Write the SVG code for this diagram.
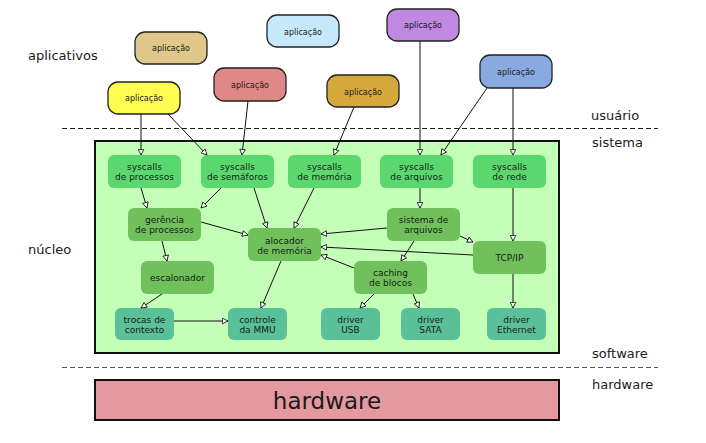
<svg xmlns="http://www.w3.org/2000/svg" width="706" height="443" viewBox="0 0 706 443">
<style>
text{font-family:"DejaVu Sans","Liberation Sans",sans-serif;fill:#1a1a1a;text-anchor:middle}
.app rect{stroke:#222;stroke-width:1.3}
.app text{font-size:8px}
.n text{font-size:9px}
.sc rect{fill:#5ad86e}
.l2 rect{fill:#70c05c}
.l3 rect{fill:#5ac09a}
.lbl{font-size:13px;text-anchor:start}
.conn line{stroke:#111;stroke-width:1;marker-end:url(#ah)}
</style>
<defs>
<marker id="ah" viewBox="0 0 10 10" refX="9" refY="5" markerWidth="7" markerHeight="7" orient="auto" markerUnits="userSpaceOnUse">
<path d="M1,1 L9,5 L1,9 Z" fill="#fff" stroke="#111" stroke-width="1.2"/>
</marker>
</defs>
<rect width="706" height="443" fill="#fff"/>
<text class="lbl" x="28" y="60">aplicativos</text>
<text class="lbl" x="28" y="254">núcleo</text>
<text class="lbl" x="591" y="120">usuário</text>
<text class="lbl" x="592" y="147">sistema</text>
<text class="lbl" x="592" y="358">software</text>
<text class="lbl" x="592" y="389">hardware</text>
<line x1="62" y1="128.5" x2="658" y2="128.5" stroke="#222" stroke-width="1" stroke-dasharray="5,3"/>
<line x1="62" y1="367.5" x2="658" y2="367.5" stroke="#555" stroke-width="1" stroke-dasharray="5,3"/>
<rect id="nucleo" x="95" y="141" width="464" height="212" fill="#c4ffb8" stroke="#111" stroke-width="2"/>
<g id="hardware"><rect x="95" y="380" width="464" height="40" fill="#e4989f" stroke="#111" stroke-width="2"/><text x="327" y="409" style="font-size:23px">hardware</text></g>
<g id="app1" class="app"><rect x="108" y="82" width="72" height="32" rx="10" fill="#fefc4f"/><text x="144" y="101">aplicação</text></g>
<g id="app2" class="app"><rect x="135" y="32" width="72" height="32" rx="10" fill="#e0c88a"/><text x="171" y="51">aplicação</text></g>
<g id="app3" class="app"><rect x="267" y="15" width="72" height="32" rx="10" fill="#c5e9fb"/><text x="303" y="35">aplicação</text></g>
<g id="app4" class="app"><rect x="214" y="68" width="72" height="33" rx="10" fill="#e08888"/><text x="250" y="88">aplicação</text></g>
<g id="app5" class="app"><rect x="327" y="75" width="72" height="32" rx="10" fill="#d4a83a"/><text x="363" y="95">aplicação</text></g>
<g id="app6" class="app"><rect x="387" y="9" width="72" height="32" rx="10" fill="#c088e0"/><text x="423" y="28">aplicação</text></g>
<g id="app7" class="app"><rect x="480" y="55" width="72" height="33" rx="10" fill="#88aae0"/><text x="516" y="75">aplicação</text></g>
<g id="sc_proc" class="n sc"><rect x="108" y="155" width="73" height="33" rx="6"/><text x="144.5" y="170">syscalls</text><text x="144.5" y="180">de processos</text></g>
<g id="sc_sem" class="n sc"><rect x="201" y="155" width="73" height="33" rx="6"/><text x="237.5" y="170">syscalls</text><text x="237.5" y="180">de semáforos</text></g>
<g id="sc_mem" class="n sc"><rect x="288" y="155" width="73" height="33" rx="6"/><text x="324.5" y="170">syscalls</text><text x="324.5" y="180">de memória</text></g>
<g id="sc_arq" class="n sc"><rect x="380" y="155" width="73" height="33" rx="6"/><text x="416.5" y="170">syscalls</text><text x="416.5" y="180">de arquivos</text></g>
<g id="sc_rede" class="n sc"><rect x="473" y="155" width="73" height="33" rx="6"/><text x="509.5" y="170">syscalls</text><text x="509.5" y="180">de rede</text></g>
<g id="gerencia" class="n l2"><rect x="128" y="208" width="73" height="33" rx="6"/><text x="164.5" y="223">gerência</text><text x="164.5" y="233">de processos</text></g>
<g id="alocador" class="n l2"><rect x="248" y="228" width="73" height="33" rx="6"/><text x="284.5" y="244">alocador</text><text x="284.5" y="254">de memória</text></g>
<g id="sisarq" class="n l2"><rect x="387" y="208" width="73" height="33" rx="6"/><text x="423.5" y="223">sistema de</text><text x="423.5" y="233">arquivos</text></g>
<g id="tcpip" class="n l2"><rect x="473" y="241" width="73" height="33" rx="6"/><text x="509.5" y="261">TCP/IP</text></g>
<g id="escalonador" class="n l2"><rect x="141" y="261" width="73" height="33" rx="6"/><text x="177.5" y="281">escalonador</text></g>
<g id="caching" class="n l2"><rect x="354" y="261" width="73" height="33" rx="6"/><text x="390.5" y="276">caching</text><text x="390.5" y="286">de blocos</text></g>
<g id="trocas" class="n l3"><rect x="115" y="308" width="59" height="32" rx="6"/><text x="144.5" y="323">trocas de</text><text x="144.5" y="333">contexto</text></g>
<g id="mmu" class="n l3"><rect x="228" y="308" width="59" height="32" rx="6"/><text x="257.5" y="323">controle</text><text x="257.5" y="333">da MMU</text></g>
<g id="usb" class="n l3"><rect x="321" y="308" width="59" height="32" rx="6"/><text x="350.5" y="323">driver</text><text x="350.5" y="333">USB</text></g>
<g id="sata" class="n l3"><rect x="401" y="308" width="59" height="32" rx="6"/><text x="430.5" y="323">driver</text><text x="430.5" y="333">SATA</text></g>
<g id="eth" class="n l3"><rect x="487" y="308" width="59" height="32" rx="6"/><text x="516.5" y="323">driver</text><text x="516.5" y="333">Ethernet</text></g>
<g id="connectors" class="conn">
<line x1="141" y1="114" x2="141" y2="155"/>
<line x1="168" y1="114" x2="207" y2="155"/>
<line x1="248" y1="101" x2="242" y2="155"/>
<line x1="354" y1="107" x2="334" y2="155"/>
<line x1="420" y1="41" x2="420" y2="155"/>
<line x1="487" y1="88" x2="441" y2="155"/>
<line x1="513" y1="88" x2="513" y2="155"/>
<line x1="141" y1="188" x2="147" y2="208"/>
<line x1="221" y1="188" x2="201" y2="208"/>
<line x1="254" y1="188" x2="267" y2="228"/>
<line x1="314" y1="188" x2="294" y2="228"/>
<line x1="420" y1="188" x2="420" y2="208"/>
<line x1="201" y1="222" x2="248" y2="235"/>
<line x1="387" y1="228" x2="321" y2="234"/>
<line x1="460" y1="236" x2="473" y2="242"/>
<line x1="473" y1="255" x2="321" y2="247"/>
<line x1="354" y1="268" x2="321" y2="255"/>
<line x1="414" y1="241" x2="401" y2="261"/>
<line x1="513" y1="188" x2="513" y2="241"/>
<line x1="162" y1="241" x2="167" y2="261"/>
<line x1="162" y1="294" x2="141" y2="308"/>
<line x1="174" y1="321" x2="228" y2="321"/>
<line x1="281" y1="261" x2="261" y2="308"/>
<line x1="374" y1="294" x2="360" y2="308"/>
<line x1="413" y1="294" x2="419" y2="308"/>
<line x1="513" y1="274" x2="513" y2="308"/>
</g>
</svg>
